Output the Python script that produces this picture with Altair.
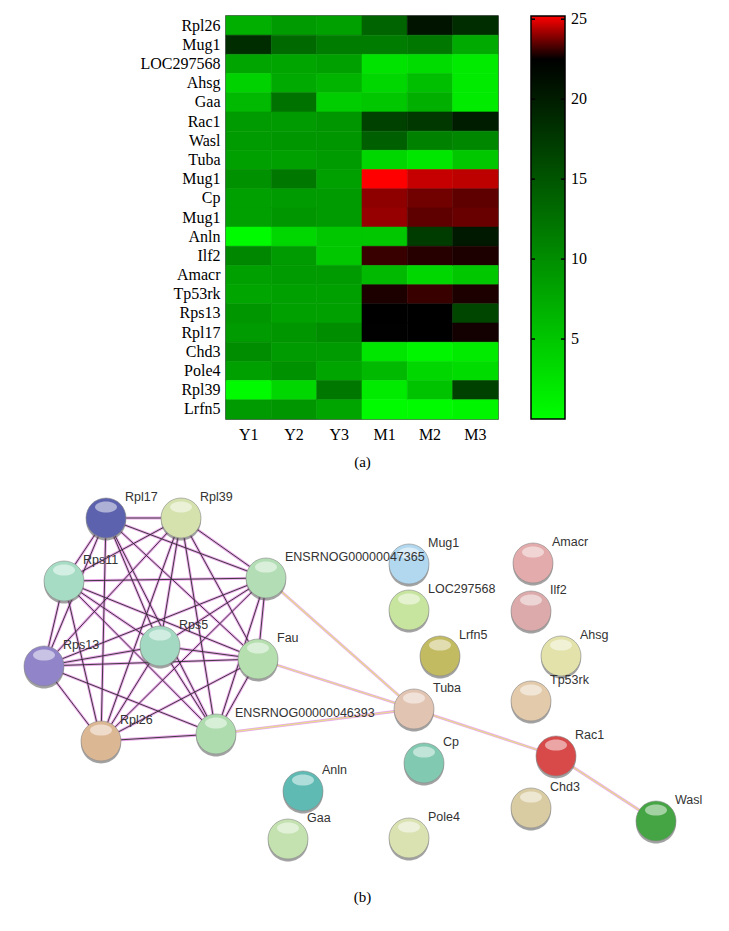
import altair as alt
import pandas as pd

# ---------------- (a) heatmap data ----------------
rows = ["Rpl26", "Mug1", "LOC297568", "Ahsg", "Gaa", "Rac1", "Wasl", "Tuba", "Mug1", "Cp",
        "Mug1", "Anln", "Ilf2", "Amacr", "Tp53rk", "Rps13", "Rpl17", "Chd3", "Pole4", "Rpl39", "Lrfn5"]
cols = ["Y1", "Y2", "Y3", "M1", "M2", "M3"]
Y1 = [7.1, 18.5, 7.9, 4.0, 6.2, 8.8, 8.8, 8.4, 9.7, 8.4, 8.4, 0.4, 10.6, 8.4, 7.9, 9.3, 8.8, 10.1, 8.4, 0.4, 8.8]
Y2 = [8.8, 13.2, 7.9, 7.5, 12.4, 8.8, 9.3, 8.4, 11.9, 8.8, 9.3, 3.5, 8.8, 8.8, 8.4, 8.4, 9.3, 8.8, 9.7, 3.5, 9.3]
Y3 = [8.4, 11.5, 8.4, 6.6, 4.4, 9.3, 9.3, 8.8, 8.4, 8.8, 8.8, 4.9, 4.9, 8.8, 8.4, 8.4, 10.1, 8.8, 7.9, 11.9, 7.9]
M1 = [13.7, 11.5, 2.6, 3.5, 4.9, 16.8, 14.1, 3.5, 25.2, 24.0, 24.1, 4.9, 23.1, 6.2, 22.8, 22.5, 22.4, 2.2, 6.2, 1.8, 0.4]
M2 = [20.7, 11.9, 3.1, 5.7, 7.1, 17.6, 11.0, 2.2, 24.6, 23.7, 23.5, 17.2, 22.9, 3.5, 23.1, 22.5, 22.5, 0.9, 3.5, 5.3, 0.4]
M3 = [18.5, 7.5, 1.8, 1.8, 1.8, 19.9, 10.6, 4.9, 24.5, 23.5, 23.6, 20.3, 22.8, 4.9, 22.8, 16.3, 22.7, 1.8, 3.1, 16.8, 0.9]
colorbar_ticks = [5, 10, 15, 20, 25]
color_stops = [0, 22.5, 25.2]
stop_colors = ["#00ff00", "#000000", "#ff0000"]

# ---------------- (b) network data ----------------
node_names = ["Rpl17", "Rpl39", "Rps11", "ENSRNOG00000047365", "Rps5", "Fau", "Rps13", "Rpl26",
              "ENSRNOG00000046393", "Mug1", "LOC297568", "Amacr", "Ilf2", "Lrfn5", "Ahsg", "Tuba",
              "Tp53rk", "Cp", "Rac1", "Chd3", "Wasl", "Anln", "Gaa", "Pole4"]
node_x = [105, 180, 63, 265, 159, 257, 43, 100, 215, 408, 408, 532, 530, 439, 560, 413,
          530, 423, 555, 530, 655, 302, 287, 408]
node_y = [517, 517, 580, 577, 645, 658, 665, 740, 733, 563, 609, 562, 610, 655, 655, 708,
          700, 762, 755, 807, 820, 790, 838, 837]
cluster = ["Rpl17", "Rpl39", "Rps11", "ENSRNOG00000047365", "Rps5", "Fau", "Rps13", "Rpl26",
           "ENSRNOG00000046393"]
extra_edges = [("ENSRNOG00000047365", "Tuba"), ("Fau", "Tuba"), ("ENSRNOG00000046393", "Tuba"),
               ("Tuba", "Rac1"), ("Rac1", "Wasl")]

# styles
node_colors = {
    "Rpl17": "#5c62ad", "Rpl39": "#d5e2ad", "Rps11": "#a6dcc4", "ENSRNOG00000047365": "#b3deb5",
    "Rps5": "#a3d8c2", "Fau": "#b5dfae", "Rps13": "#9184c9", "Rpl26": "#dcb794",
    "ENSRNOG00000046393": "#aedcaf", "Mug1": "#b2d8ef", "LOC297568": "#c8e5a0", "Amacr": "#e3abab",
    "Ilf2": "#dcaaaa", "Lrfn5": "#c2bb62", "Ahsg": "#e2e2aa", "Tuba": "#e2c4b2", "Tp53rk": "#e2caaa",
    "Cp": "#82c9b2", "Rac1": "#d84a4a", "Chd3": "#dacca2", "Wasl": "#45a545", "Anln": "#5fbab3",
    "Gaa": "#c3e2b0", "Pole4": "#dae2b2",
}
SERIF = "Liberation Serif"
SANS = "Liberation Sans"

# ---------------- build tables ----------------
seen = {}
row_keys = []
for r in rows:
    n = seen.get(r, 0)
    row_keys.append(r + "\u200b" * n)
    seen[r] = n + 1

series = {"Y1": Y1, "Y2": Y2, "Y3": Y3, "M1": M1, "M2": M2, "M3": M3}
heat_df = pd.DataFrame([
    {"row": row_keys[i], "col": c, "value": series[c][i]}
    for c in cols for i in range(len(rows))
])
ticks_df = pd.DataFrame({"t": colorbar_ticks})
bar_df = pd.DataFrame({"lo": [color_stops[0]], "hi": [color_stops[-1]]})

pos = {n: (x, y) for n, x, y in zip(node_names, node_x, node_y)}
nodes_df = pd.DataFrame({"name": node_names, "x": node_x, "y": node_y})
edge_rows = []
for i in range(len(cluster)):
    for j in range(i + 1, len(cluster)):
        a, b = cluster[i], cluster[j]
        edge_rows.append({"x": pos[a][0], "y": pos[a][1], "x2": pos[b][0], "y2": pos[b][1], "kind": "cluster"})
for a, b in extra_edges:
    edge_rows.append({"x": pos[a][0], "y": pos[a][1], "x2": pos[b][0], "y2": pos[b][1], "kind": "extra"})
edges_df = pd.DataFrame(edge_rows)

# ---------------- (a) heatmap ----------------
color_scale = alt.Scale(domain=color_stops, range=stop_colors, interpolate="rgb")
cells = alt.Chart(heat_df).mark_rect(strokeWidth=0.6).encode(
    x=alt.X("col:N", sort=cols,
            axis=alt.Axis(title="(a)", labelAngle=0, ticks=False, domain=False, labelPadding=7,
                          labelFont=SERIF, labelFontSize=16, labelColor="black",
                          titleFont=SERIF, titleFontSize=15, titleFontWeight="normal",
                          titleColor="black", titlePadding=12)),
    y=alt.Y("row:N", sort=row_keys,
            axis=alt.Axis(title=None, ticks=False, domain=False, labelPadding=6,
                          labelFont=SERIF, labelFontSize=16, labelColor="black")),
    color=alt.Color("value:Q", scale=color_scale, legend=None),
    stroke=alt.Stroke("value:Q", scale=color_scale, legend=None),
)

# colour bar drawn on its own quantitative scale
cb_scale = alt.Scale(domain=[color_stops[0], color_stops[-1]], nice=False, zero=False)
top = color_stops[-1]
gradient = alt.LinearGradient(
    gradient="linear", x1=0, y1=1, x2=0, y2=0,
    stops=[alt.GradientStop(offset=s / top, color=c) for s, c in zip(color_stops, stop_colors)])
bar = alt.Chart(bar_df).mark_rect(color=gradient, stroke="black", strokeWidth=1.5).encode(
    y=alt.Y("lo:Q", scale=cb_scale, axis=None), y2="hi:Q",
    x=alt.value(305), x2=alt.value(339))
ticks_left = alt.Chart(ticks_df).mark_rule(color="black", strokeWidth=1.5).encode(
    y=alt.Y("t:Q", scale=cb_scale, axis=None), x=alt.value(305), x2=alt.value(309))
ticks_right = alt.Chart(ticks_df).mark_rule(color="black", strokeWidth=1.5).encode(
    y=alt.Y("t:Q", scale=cb_scale, axis=None), x=alt.value(335), x2=alt.value(339))
tick_labels = alt.Chart(ticks_df).mark_text(align="left", baseline="middle", font=SERIF,
                                            fontSize=16, color="black").encode(
    y=alt.Y("t:Q", scale=cb_scale, axis=None), x=alt.value(345), text="t:Q")
colorbar = alt.layer(bar, ticks_left, ticks_right, tick_labels)

heat = alt.layer(cells, colorbar).resolve_scale(y="independent").properties(
    width=272, height=403, view=alt.ViewBackground(stroke="#333333", strokeWidth=1.5))

# ---------------- (b) network ----------------
xs = alt.Scale(domain=[225, 497], nice=False, zero=False)
ys = alt.Scale(domain=[485, 880], nice=False, zero=False, reverse=True)
xaxis = alt.Axis(title="(b)", labels=False, ticks=False, domain=False, grid=False,
                 titleFont=SERIF, titleFontSize=15, titleFontWeight="normal",
                 titleColor="black", titlePadding=8)

def X(f="x"):
    return alt.X(f"{f}:Q", scale=xs, axis=xaxis)

def Y(f="y"):
    return alt.Y(f"{f}:Q", scale=ys, axis=None)

edge_base = alt.Chart(edges_df)
e_pink = edge_base.mark_rule(color="#e48ce4", strokeWidth=2.8, opacity=0.75).encode(
    x=X(), y=Y(), x2="x2:Q", y2="y2:Q")
e_yellow = edge_base.mark_rule(color="#e4e47a", strokeWidth=1.2, opacity=0.9).encode(
    x=X(), y=Y(), x2="x2:Q", y2="y2:Q").transform_filter(alt.datum.kind == "extra")
e_dark = edge_base.mark_rule(color="#2e2e2e", strokeWidth=1.0, opacity=0.9).encode(
    x=X(), y=Y(), x2="x2:Q", y2="y2:Q").transform_filter(alt.datum.kind == "cluster")

shadow_path = "M -1 0.12 A 1 1 0 1 0 1 0.12 A 1 1 0 1 0 -1 0.12 Z"
hl_path = "M -0.55 -0.55 A 0.55 0.28 0 1 1 0.55 -0.55 A 0.55 0.28 0 1 1 -0.55 -0.55 Z"
node_base = alt.Chart(nodes_df)
n_shadow = node_base.mark_point(shape=shadow_path, filled=True, color="#555555", opacity=0.55,
                                size=1600).encode(x=X(), y=Y())
n_body = node_base.mark_point(shape="circle", filled=True, size=1600, opacity=1,
                              stroke="#8a8a8a", strokeWidth=0.6).encode(
    x=X(), y=Y(),
    color=alt.Color("name:N", scale=alt.Scale(domain=node_names,
                                              range=[node_colors[n] for n in node_names]),
                    legend=None))
n_hl = node_base.mark_point(shape=hl_path, filled=True, color="white", opacity=0.5,
                            size=1600).encode(x=X(), y=Y())
n_label = node_base.mark_text(align="left", baseline="middle", dx=19, dy=-21, font=SANS,
                              fontSize=12.5, color="#333333").encode(x=X(), y=Y(), text="name:N")

net = alt.layer(e_pink, e_yellow, e_dark, n_shadow, n_body, n_hl, n_label).properties(
    width=272, height=395, view=alt.ViewBackground(stroke=None))

chart = alt.vconcat(heat, net, spacing=16).properties(
    padding={"left": 14, "top": 2, "right": 5, "bottom": 5}
).configure_view(strokeWidth=0)

chart.save("out.html", embed_options={"renderer": "svg", "actions": False})
